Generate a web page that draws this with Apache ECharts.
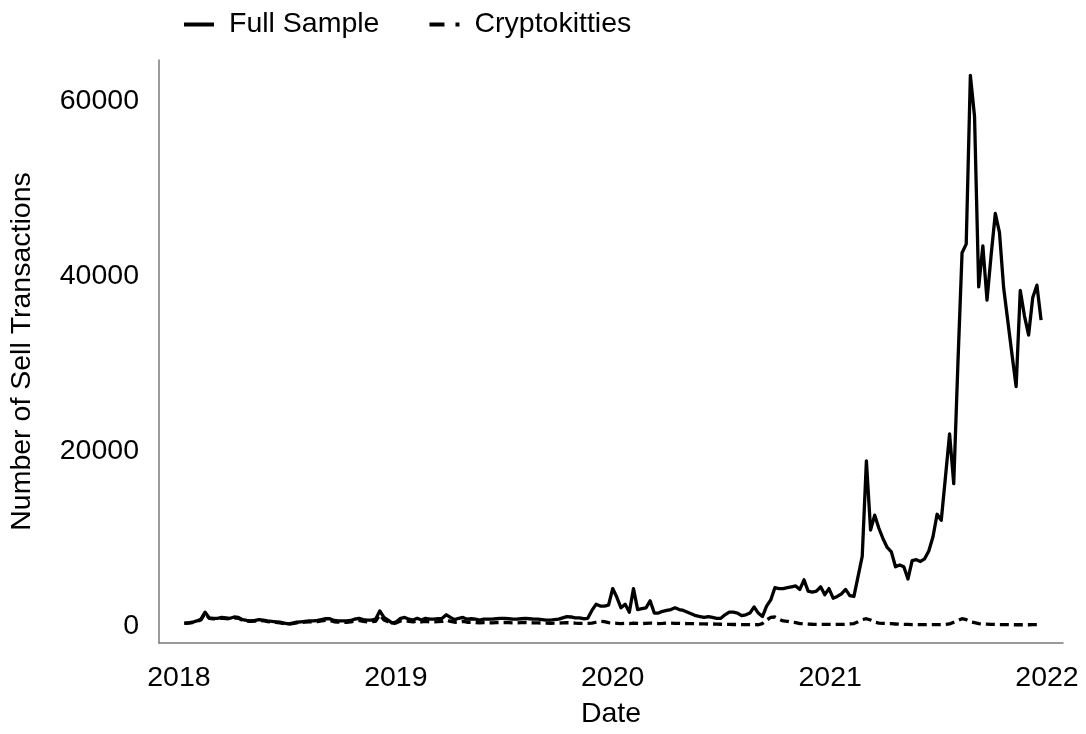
<!DOCTYPE html>
<html>
<head>
<meta charset="utf-8">
<script src="https://cdn.jsdelivr.net/npm/echarts@6/dist/echarts.min.js"></script>
<style>html,body{margin:0;padding:0;background:#fff}#c{width:1086px;height:734px}</style>
</head>
<body>
<div id="c"></div>
<script>
// Weekly observations starting 2018-01-10
const startDate = [2018, 0, 10];
const yearTicks = [2018, 2019, 2020, 2021, 2022];
const yTicks = [0, 20000, 40000, 60000];
const seriesNames = ['Full Sample', 'Cryptokitties'];

const fullSample = [
  350, 380, 450, 600, 800, 1600, 950, 900, 900, 1000,
  950, 900, 1050, 1000, 750, 650, 600, 650, 750, 700,
  600, 550, 500, 450, 350, 250, 350, 450, 500, 550,
  600, 600, 650, 750, 850, 850, 650, 600, 600, 600,
  650, 800, 900, 750, 700, 700, 800, 1750, 1000, 700,
  350, 500, 900, 1000, 800, 700, 900, 700, 900, 800,
  800, 850, 900, 1300, 1000, 750, 900, 1000, 800, 850,
  800, 700, 800, 800, 800, 850, 900, 900, 850, 800,
  800, 850, 900, 850, 800, 800, 750, 700, 700, 750,
  800, 950, 1100, 1050, 950, 950, 850, 900, 1800, 2500,
  2300, 2300, 2400, 4300, 3300, 2100, 2500, 1600, 4300, 1900,
  2000, 2100, 2900, 1500, 1500, 1700, 1800, 1900, 2100, 1900,
  1800, 1600, 1400, 1200, 1100, 1000, 1100, 1000, 900, 900,
  1300, 1600, 1600, 1500, 1200, 1300, 1500, 2200, 1500, 1100,
  2300, 3000, 4400, 4300, 4300, 4400, 4500, 4600, 4200, 5300,
  4000, 3900, 4000, 4500, 3600, 4300, 3200, 3400, 3700, 4200,
  3500, 3400, 5700, 8000, 18900, 11000, 12700, 11200, 10000, 9000,
  8500, 6800, 7000, 6800, 5400, 7500, 7600, 7400, 7700, 8600,
  10200, 12800, 12100, 17000, 22000, 16300, 30000, 42700, 43700, 63000,
  58300, 38800, 43500, 37300, 42500, 47200, 45000, 38700, 34900, 31100,
  27400, 38400, 35500, 33300, 37600, 39000, 35000
];

const cryptokitties = [
  330, 360, 420, 560, 720, 1450, 880, 830, 830, 920,
  870, 820, 950, 900, 680, 590, 540, 580, 660, 620,
  530, 480, 440, 390, 300, 220, 300, 380, 420, 460,
  500, 490, 530, 600, 660, 650, 500, 460, 450, 450,
  480, 580, 650, 550, 500, 500, 560, 1300, 700, 500,
  280, 380, 600, 650, 550, 480, 600, 480, 550, 500,
  500, 520, 550, 700, 550, 450, 500, 550, 450, 450,
  420, 380, 400, 400, 380, 400, 420, 420, 400, 380,
  380, 400, 420, 400, 380, 370, 360, 340, 330, 340,
  360, 380, 400, 380, 350, 330, 320, 330, 340, 450,
  550, 520, 400, 350, 330, 300, 320, 300, 350, 330,
  300, 320, 350, 330, 300, 320, 350, 340, 320, 330,
  310, 300, 290, 280, 270, 260, 250, 250, 230, 220,
  200, 200, 190, 190, 180, 180, 170, 170, 160, 300,
  700, 1000, 1050, 800, 600, 550, 450, 400, 300, 300,
  250, 220, 200, 200, 200, 200, 200, 200, 200, 220,
  250, 300, 500, 750, 850, 700, 450, 350, 320, 300,
  280, 250, 220, 200, 200, 180, 180, 170, 170, 170,
  170, 170, 170, 200, 250, 450, 650, 850, 750, 500,
  400, 300, 250, 230, 200, 200, 180, 170, 170, 160,
  160, 160, 160, 160, 170, 170, 180
];

const DAY = 86400000;
const dates = fullSample.map((_, i) => new Date(startDate[0], startDate[1], startDate[2] + 7 * i).getTime());
const pair = arr => arr.map((v, i) => [dates[i], v]);
const FONT = '"Liberation Sans", Arial, sans-serif';
const TXT = '#000';
const FS = 28.5;

const chart = echarts.init(document.getElementById('c'), null, {renderer: 'canvas'});
chart.setOption({
  animation: false,
  backgroundColor: '#fff',
  textStyle: {fontFamily: FONT},
  grid: {left: 158, right: 23, top: 60, bottom: 85, containLabel: false},
  legend: {
    top: 5, left: 177,
    itemWidth: 30, itemHeight: 14, itemGap: 48,
    itemStyle: {opacity: 0},
    lineStyle: {width: 4},
    textStyle: {fontSize: FS, color: TXT, fontFamily: FONT, padding: [0, 0, 0, 10]},
    data: [
      {name: seriesNames[0]},
      {name: seriesNames[1], lineStyle: {type: [15, 11], width: 4}}
    ]
  },
  xAxis: {
    type: 'value',
    min: new Date(yearTicks[0], 0, 1).getTime() - 33.6 * DAY,
    max: new Date(yearTicks[yearTicks.length - 1], 0, 1).getTime() + 26.9 * DAY,
    name: 'Date', nameLocation: 'middle', nameGap: 57,
    nameTextStyle: {fontSize: FS, color: TXT, fontFamily: FONT},
    axisLine: {show: true, onZero: false, lineStyle: {color: '#7a7a7a', width: 1.5}},
    axisTick: {show: false},
    splitLine: {show: false},
    axisLabel: {
      customValues: yearTicks.map(y => new Date(y, 0, 1).getTime()),
      formatter: v => String(new Date(v).getFullYear()),
      fontSize: FS, color: TXT, fontFamily: FONT, margin: 21
    }
  },
  yAxis: {
    type: 'value',
    min: -1925, max: 64755,
    name: 'Number of Sell Transactions', nameLocation: 'middle', nameGap: 122,
    nameTextStyle: {fontSize: FS, color: TXT, fontFamily: FONT},
    axisLine: {show: true, onZero: false, lineStyle: {color: '#7a7a7a', width: 1.5}},
    axisTick: {show: false},
    splitLine: {show: false},
    axisLabel: {
      customValues: yTicks,
      formatter: v => String(v),
      fontSize: FS, color: TXT, fontFamily: FONT, margin: 20
    }
  },
  series: [
    {
      name: seriesNames[0], type: 'line', data: pair(fullSample),
      symbol: 'none', lineStyle: {color: '#000', width: 3.3, join: 'round'}, itemStyle: {color: '#000'}
    },
    {
      name: seriesNames[1], type: 'line', data: pair(cryptokitties),
      symbol: 'none', lineStyle: {color: '#000', width: 3.3, type: [9, 5]}, itemStyle: {color: '#000'}
    }
  ]
});
</script>
</body>
</html>
